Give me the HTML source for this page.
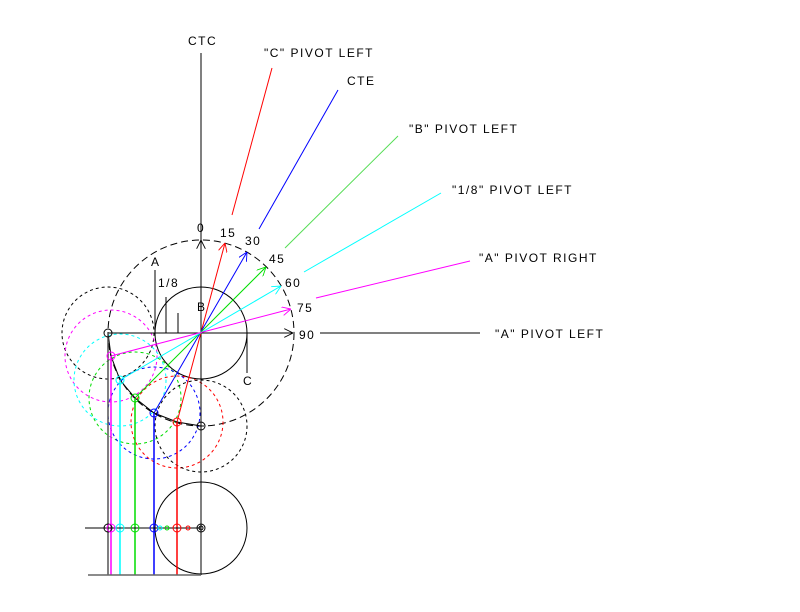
<!DOCTYPE html>
<html><head><style>
html,body{margin:0;padding:0;background:#fff;}
svg{display:block;}
text{font-family:"Liberation Sans",sans-serif;font-size:12px;fill:#000;letter-spacing:1.5px;}
</style></head><body>
<svg width="800" height="612" viewBox="0 0 800 612" xmlns="http://www.w3.org/2000/svg">
<defs>
<marker id="ar" viewBox="0 0 10 10" refX="10" refY="5" markerWidth="9" markerHeight="9" orient="auto" markerUnits="userSpaceOnUse"><path d="M0,0 L10,5 L0,10" fill="none" stroke="context-stroke" stroke-width="1"/></marker>
</defs>
<g fill="none" stroke-width="1">
<circle cx="201" cy="333" r="93" stroke="#000" stroke-dasharray="7,4"/>
<circle cx="201" cy="333" r="46" stroke="#000"/>
<circle cx="108" cy="333" r="46" stroke="#000" stroke-dasharray="3,3"/>
<circle cx="111" cy="356" r="46" stroke="#f0f" stroke-dasharray="3,3"/>
<circle cx="120" cy="380" r="46" stroke="#0ff" stroke-dasharray="3,3"/>
<circle cx="135" cy="398" r="46" stroke="#0d0" stroke-dasharray="3,3"/>
<circle cx="154" cy="413" r="46" stroke="#00f" stroke-dasharray="3,3"/>
<circle cx="177" cy="422" r="46" stroke="#f00" stroke-dasharray="3,3"/>
<circle cx="201" cy="426" r="46" stroke="#000" stroke-dasharray="3,3"/>
<circle cx="201" cy="528" r="46" stroke="#000"/>
<line x1="201" y1="53" x2="201" y2="575" stroke="#000"/>
<line x1="201" y1="333" x2="201" y2="240" stroke="#000" marker-end="url(#ar)"/>
<line x1="108" y1="333" x2="293" y2="333" stroke="#000" marker-end="url(#ar)"/>
<line x1="320" y1="333" x2="480" y2="333" stroke="#000"/>
<line x1="177" y1="422" x2="225" y2="243" stroke="#f00" marker-end="url(#ar)"/>
<line x1="232" y1="215" x2="272" y2="68" stroke="#f00"/>
<line x1="154" y1="413" x2="247" y2="252" stroke="#00f" marker-end="url(#ar)"/>
<line x1="259" y1="229" x2="338" y2="90" stroke="#00f"/>
<line x1="135" y1="398" x2="266" y2="267" stroke="#0d0" marker-end="url(#ar)"/>
<line x1="285" y1="248" x2="398" y2="136" stroke="#5d5"/>
<line x1="120" y1="380" x2="281" y2="286" stroke="#0ff" marker-end="url(#ar)"/>
<line x1="304" y1="272" x2="441" y2="193" stroke="#0ff"/>
<line x1="111" y1="356" x2="291" y2="309" stroke="#f0f" marker-end="url(#ar)"/>
<line x1="316" y1="298" x2="470" y2="261" stroke="#f0f"/>
<line x1="155" y1="270" x2="155" y2="333" stroke="#000"/>
<line x1="166" y1="297" x2="166" y2="333" stroke="#000"/>
<line x1="178" y1="313" x2="178" y2="333" stroke="#000"/>
<line x1="247" y1="333" x2="247" y2="373" stroke="#000"/>
<polyline points="108,333 111,356 120,380 135,398 154,413 177,422 201,426" stroke="#000"/>
<line x1="108" y1="333" x2="108" y2="575" stroke="#555" stroke-width="1.5"/>
<line x1="111" y1="356" x2="111" y2="575" stroke="#f0f" stroke-width="1.5"/>
<line x1="120" y1="380" x2="120" y2="575" stroke="#0ff" stroke-width="1.5"/>
<line x1="135" y1="398" x2="135" y2="575" stroke="#0d0" stroke-width="1.5"/>
<line x1="154" y1="413" x2="154" y2="575" stroke="#00f" stroke-width="1.5"/>
<line x1="177" y1="422" x2="177" y2="575" stroke="#f00" stroke-width="1.5"/>
<line x1="85" y1="528" x2="201" y2="528" stroke="#000"/>
<line x1="88" y1="575" x2="201" y2="575" stroke="#666" stroke-width="1.5"/>
<circle cx="108" cy="333" r="4" stroke="#000"/>
<circle cx="111" cy="356" r="4" stroke="#f0f"/>
<circle cx="120" cy="380" r="4" stroke="#0ff"/>
<circle cx="135" cy="398" r="4" stroke="#0d0"/>
<circle cx="154" cy="413" r="4" stroke="#00f"/>
<circle cx="177" cy="422" r="4" stroke="#f00"/>
<circle cx="201" cy="426" r="4" stroke="#000"/>
<circle cx="108" cy="528" r="4" stroke="#000"/>
<circle cx="111" cy="528" r="4" stroke="#f0f"/>
<circle cx="120" cy="528" r="4" stroke="#0ff"/>
<circle cx="135" cy="528" r="4" stroke="#0d0"/>
<circle cx="154" cy="528" r="4" stroke="#00f"/>
<circle cx="177" cy="528" r="4" stroke="#f00"/>
<circle cx="201" cy="528" r="4" stroke="#000"/>
<circle cx="201" cy="528" r="2" stroke="#000"/>
<circle cx="188" cy="528" r="2" stroke="#f00"/>
<circle cx="167" cy="528" r="2" stroke="#0d0"/>
<circle cx="160" cy="528" r="2" stroke="#0ff"/>
</g>
<text x="188" y="45">CTC</text>
<text x="264" y="57">"C" PIVOT LEFT</text>
<text x="347" y="85">CTE</text>
<text x="409" y="133">"B" PIVOT LEFT</text>
<text x="452" y="194">"1/8" PIVOT LEFT</text>
<text x="479" y="262">"A" PIVOT RIGHT</text>
<text x="495" y="338">"A" PIVOT LEFT</text>
<text x="197" y="232">0</text>
<text x="220" y="237">15</text>
<text x="245" y="245">30</text>
<text x="269" y="263">45</text>
<text x="285" y="287">60</text>
<text x="297" y="312">75</text>
<text x="299" y="339">90</text>
<text x="151" y="266">A</text>
<text x="158" y="287">1/8</text>
<text x="197" y="311">B</text>
<text x="243" y="385">C</text>
</svg>
</body></html>
